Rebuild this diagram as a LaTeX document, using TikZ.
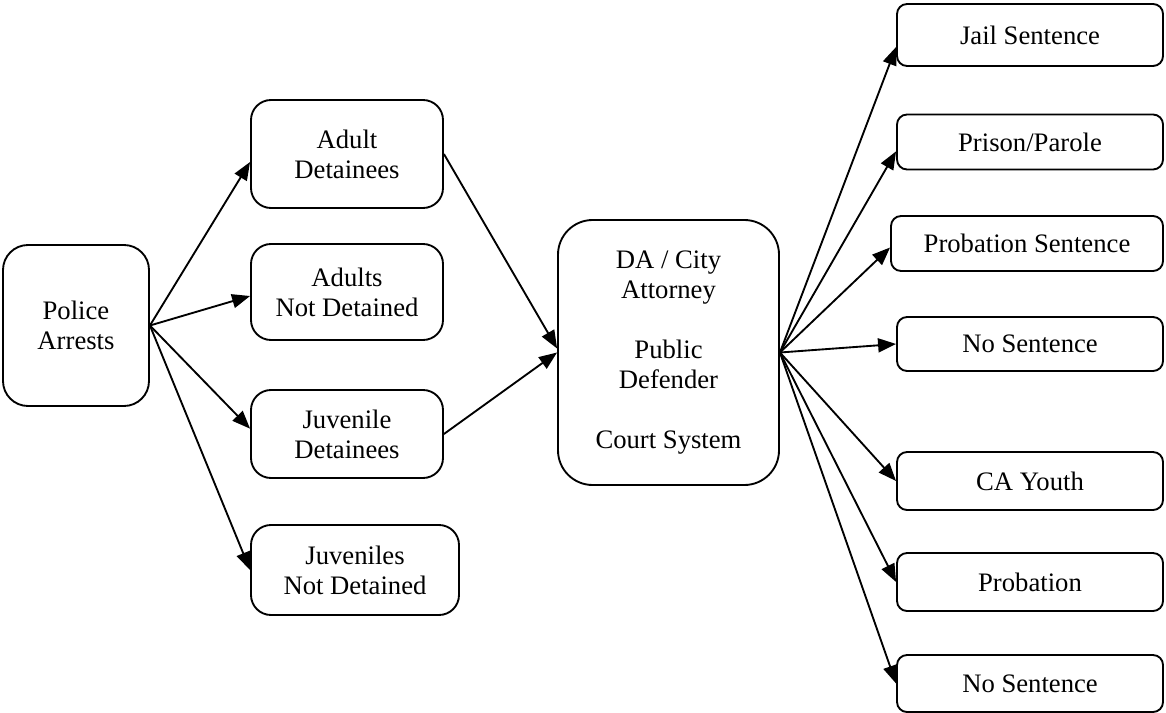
\documentclass[tikz,border=0pt]{standalone}
\usepackage{fontspec}
\setmainfont{Liberation Serif}
\usetikzlibrary{arrows.meta}
\begin{document}
\begin{tikzpicture}[x=0.75pt,y=-0.75pt,
  box/.style={draw, line width=1.4pt, align=center, inner sep=0pt,
    font=\fontsize{20}{22.5}\selectfont},
  lbox/.style={box, rounded corners=15pt, minimum width=144pt},
  rbox/.style={box, rounded corners=7.5pt, minimum width=199.5pt},
  arr/.style={line width=1.4pt, -{Triangle[length=13.5pt,width=10.5pt]}}]
\useasboundingbox (0,0) rectangle (1166,713);
% left
\node[box, rounded corners=18.75pt, minimum width=109.5pt, minimum height=120.75pt] (police) at (76,325.5) {Police\\Arrests};
\node[lbox, minimum height=81pt] (adet) at (347,154) {Adult\\Detainees};
\node[lbox, minimum height=72pt] (andet) at (347,292) {Adults\\Not Detained};
\node[lbox, minimum height=66pt] (jdet) at (347,434) {Juvenile\\Detainees};
\node[lbox, minimum width=156pt, minimum height=67.5pt] (jndet) at (355,570) {Juveniles\\Not Detained};
% center
\node[box, rounded corners=26pt, minimum width=165.75pt, minimum height=198.75pt] (da) at (668.5,352.5)
  {DA / City\\Attorney\\[22.5pt]Public\\Defender\\[22.5pt]Court System};
% right
\node[rbox, minimum height=46.5pt] (jail) at (1030,35) {Jail Sentence};
\node[rbox, minimum height=41.25pt] (prison) at (1030,142) {Prison/Parole};
\node[rbox, minimum width=204pt, minimum height=41.25pt] (probsent) at (1027,243.5) {Probation Sentence};
\node[rbox, minimum height=40.5pt] (nosent) at (1030,344) {No Sentence};
\node[rbox, minimum height=43.5pt] (cayouth) at (1030,481) {CA Youth};
\node[rbox, minimum height=43.5pt] (probation) at (1030,582) {Probation};
\node[rbox, minimum height=42.75pt] (nosentb) at (1030,683.5) {No Sentence};
% arrows left
\draw[arr] (police.east) -- ([yshift=-6pt]adet.west);
\draw[arr] (police.east) -- ([yshift=-3pt]andet.west);
\draw[arr] (police.east) -- ([yshift=4pt]jdet.west);
\draw[arr] (police.east) -- (jndet.west);
\draw[arr] (adet.east) -- ([yshift=3pt]da.west);
\draw[arr] (jdet.east) -- (da.west);
% arrows right
\draw[arr] (da.east) -- ([yshift=-9pt]jail.west);
\draw[arr] (da.east) -- ([yshift=-7pt]prison.west);
\draw[arr] (da.east) -- ([yshift=-3pt]probsent.west);
\draw[arr] (da.east) -- (nosent.west);
\draw[arr] (da.east) -- (cayouth.west);
\draw[arr] (da.east) -- (probation.west);
\draw[arr] (da.east) -- (nosentb.west);
\end{tikzpicture}
\end{document}
